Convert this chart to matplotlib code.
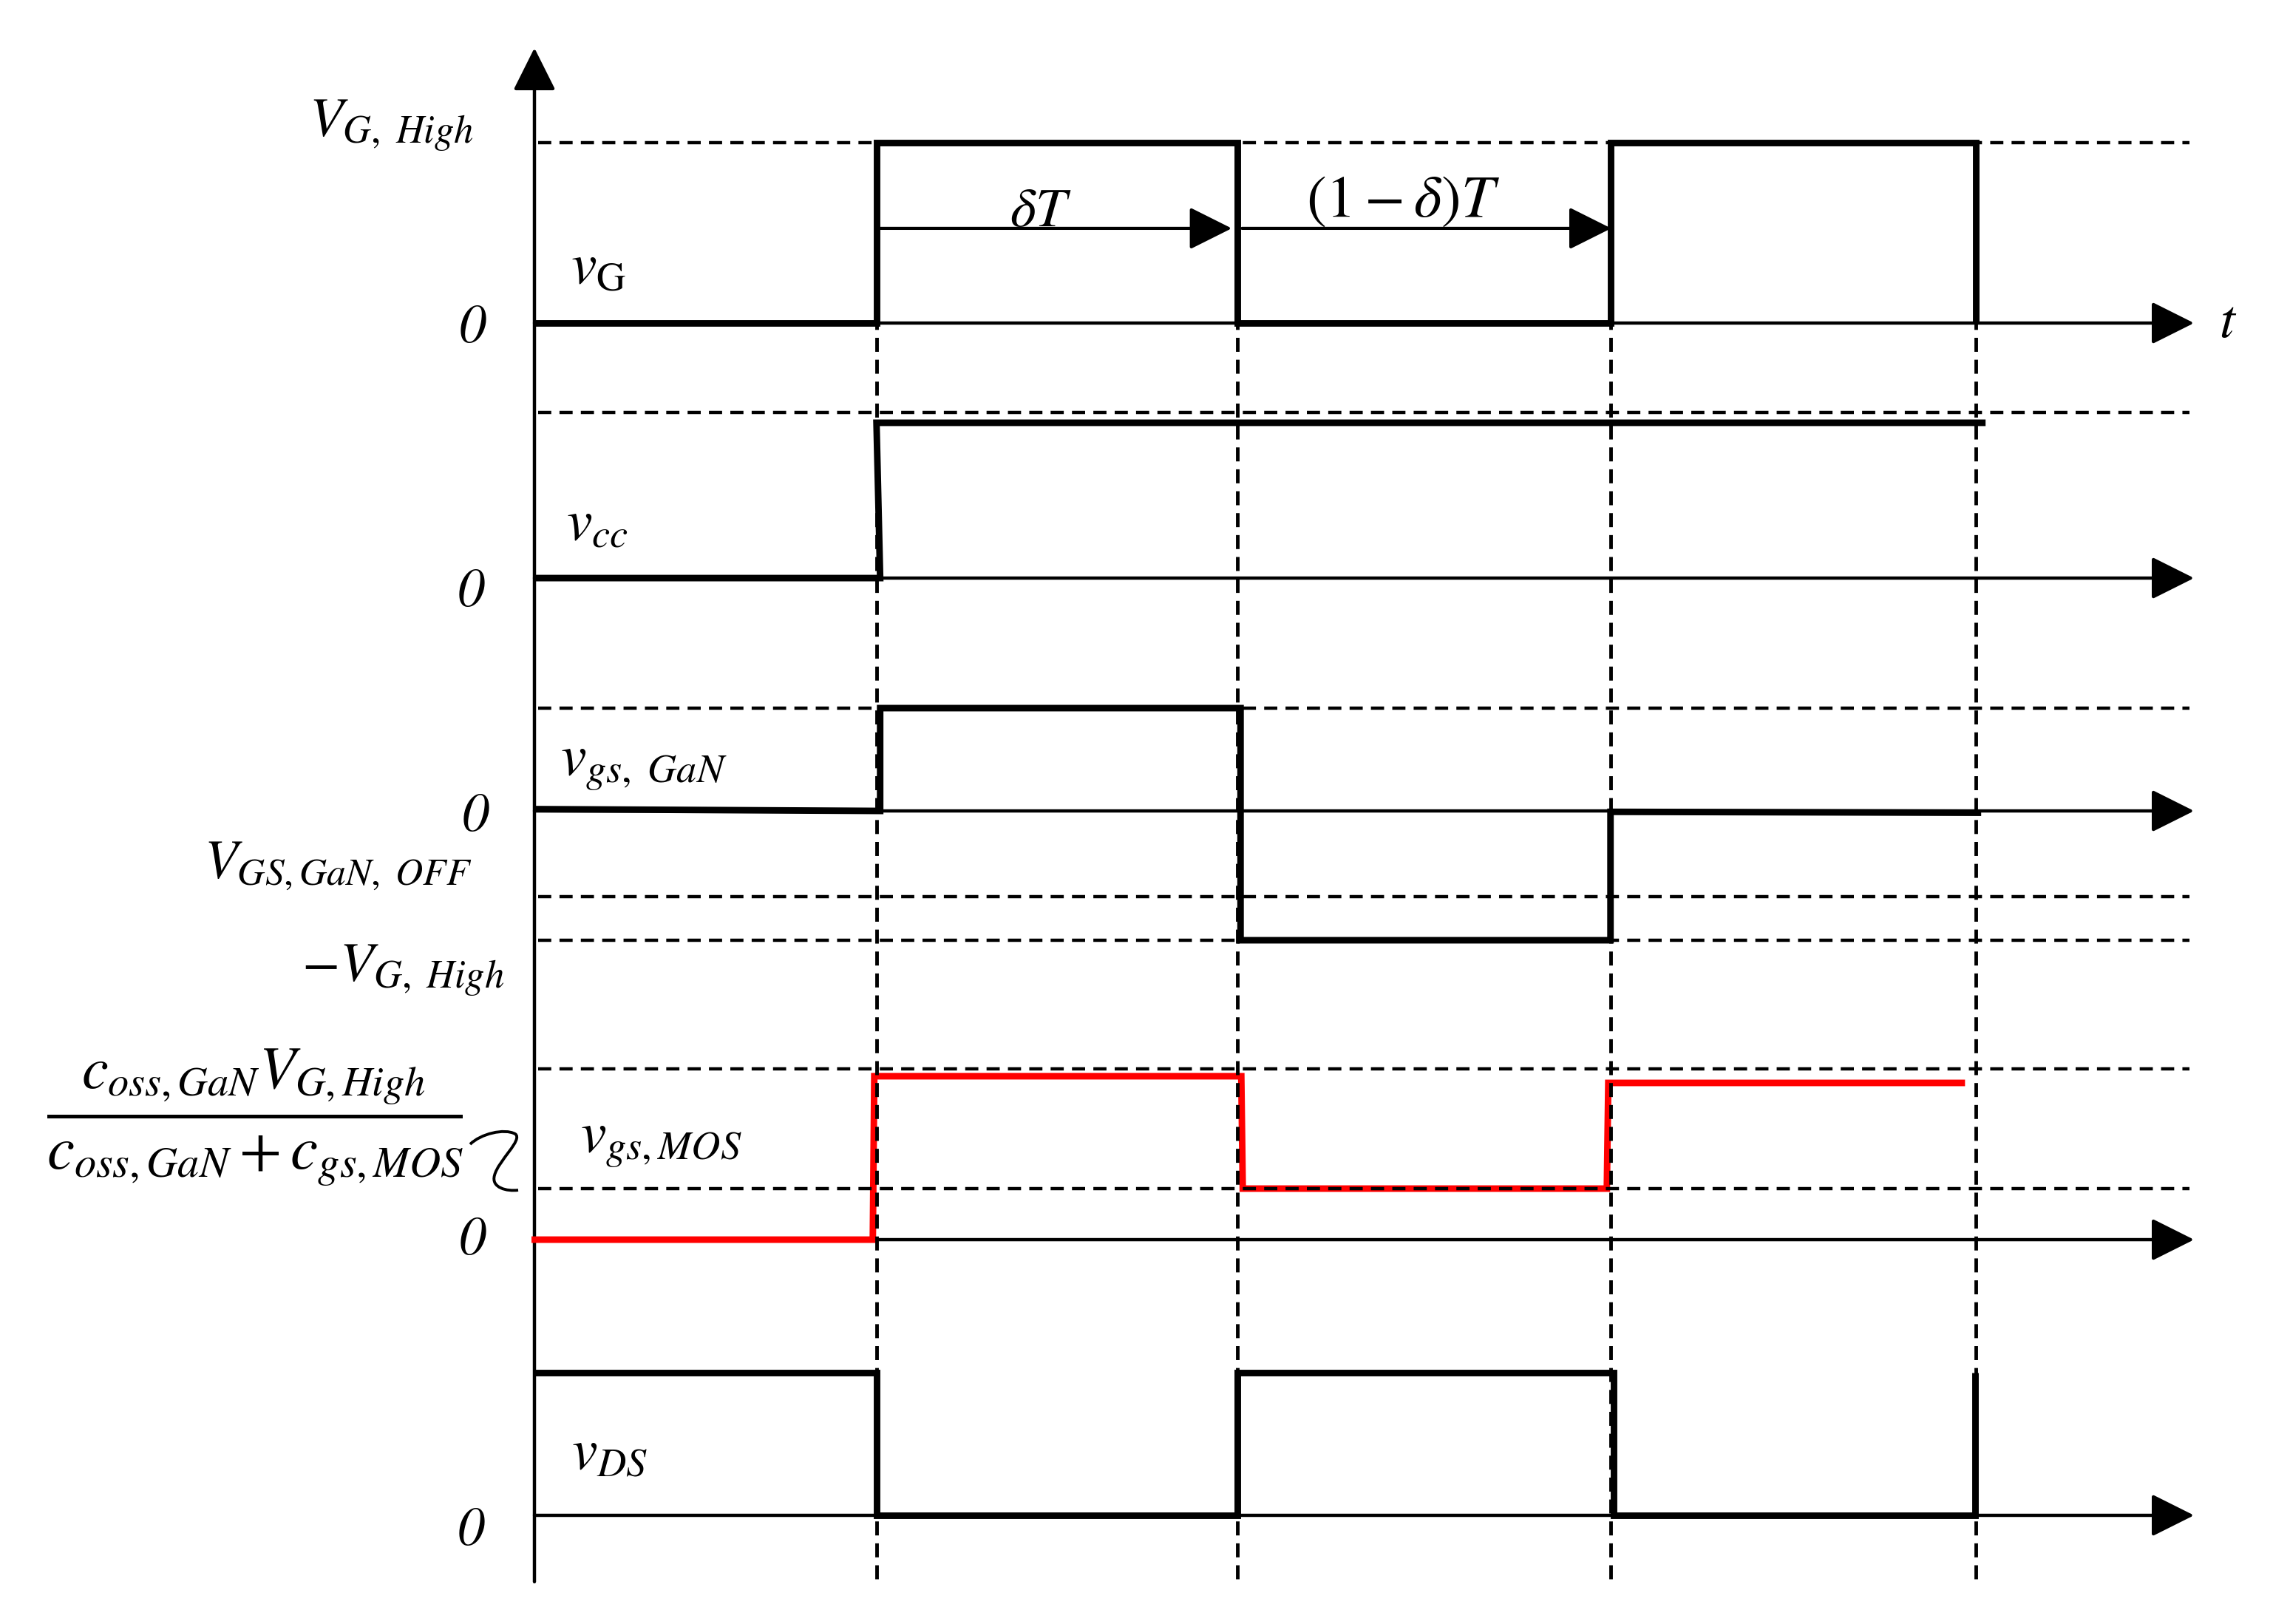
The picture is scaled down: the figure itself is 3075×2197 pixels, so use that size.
import matplotlib
matplotlib.use("Agg")
import matplotlib.pyplot as plt
from matplotlib.path import Path
from matplotlib.patches import PathPatch

plt.rcParams["mathtext.fontset"] = "stix"
plt.rcParams["font.family"] = ["STIXGeneral", "DejaVu Serif"]

# ---- data: time in units of the period T (t = 0 on the vertical axis),
# ---- levels in units of V_G,High relative to each trace's own zero line
t_edges = [0.466, 0.958, 1.466, 1.964]

vg_t = [0.0, 0.466, 0.466, 0.958, 0.958, 1.466, 1.466, 1.964, 1.964]
vg_v = [0, 0, 1.0, 1.0, 0, 0, 1.0, 1.0, 0]

vcc_t = [0.0, 0.471, 0.466, 1.977]
vcc_v = [0, 0, 0.861, 0.861]

gan_t = [0.0, 0.471, 0.471, 0.962, 0.962, 1.466, 1.466, 1.971]
gan_v = [0.01, 0, 0.570, 0.570, -0.717, -0.717, -0.005, -0.01]

mos_t = [-0.004, 0.461, 0.463, 0.963, 0.965, 1.461, 1.463, 1.949]
mos_v = [0, 0, 0.906, 0.906, 0.283, 0.283, 0.869, 0.869]

ds_t = [0.0, 0.466, 0.466, 0.958, 0.958, 1.470, 1.470, 1.963, 1.963]
ds_v = [0.791, 0.791, 0, 0, 0.791, 0.791, 0, 0, 0.791]

# dashed reference levels of each trace
vg_ref = [1.0]
vcc_ref = [0.918]
gan_ref = [0.570, -0.475, -0.717]
mos_ref = [0.947, 0.283]
ds_ref = []

# ---- layout (pixels of the 3075 x 2197 canvas)
W, H = 3075, 2197
AX_PX, T_PX, V_PX = 723, 993, 244
t_axis_end = 2.261
base = {"vg": 7.213, "vcc": 5.799, "gan": 4.508, "mos": 2.131, "ds": 0.6025}

fig = plt.figure(figsize=(W / 100, H / 100), dpi=100)
ax = fig.add_axes([0, 0, 1, 1])
ax.set_xlim(-AX_PX / T_PX, (W - AX_PX) / T_PX)
ax.set_ylim(0, H / V_PX)
ax.axis("off")

LW_WAVE = 6.4
LW_AXIS = 3.2
head = dict(arrowstyle="-|>,head_length=1.0,head_width=0.5",
            mutation_scale=36, lw=LW_AXIS, color="black",
            shrinkA=0, shrinkB=0)

# vertical axis
ax.annotate("", xy=(0, 8.738), xytext=(0, 0.234), arrowprops=head, zorder=3)

traces = [
    ("vg", vg_t, vg_v, vg_ref, "black"),
    ("vcc", vcc_t, vcc_v, vcc_ref, "black"),
    ("gan", gan_t, gan_v, gan_ref, "black"),
    ("mos", mos_t, mos_v, mos_ref, "#ff0000"),
    ("ds", ds_t, ds_v, ds_ref, "black"),
]
for key, tt, vv, refs, col in traces:
    b = base[key]
    # time axis
    ax.annotate("", xy=(t_axis_end, b), xytext=(0, b), arrowprops=head, zorder=3)
    # reference levels
    for r in refs:
        ax.plot([0.005, 2.255], [b + r, b + r], color="black", lw=3.2,
                linestyle=(0, (4.0, 2.5)), zorder=5)
    # waveform
    ax.plot(tt, [b + v for v in vv], color=col, lw=LW_WAVE,
            solid_joinstyle="miter", solid_capstyle="butt", zorder=4)

# vertical dashed guides at the switching instants
for te in t_edges:
    ax.plot([te, te], [0.25, base["vg"]], color="black", lw=3.5,
            linestyle=(0, (3.9, 2.2)), zorder=5)

# duty-cycle arrows
yarr = base["vg"] + 0.525
small = dict(arrowstyle="-|>,head_length=1.0,head_width=0.5",
             mutation_scale=36, lw=3.0, color="black", shrinkA=0, shrinkB=0)
ax.annotate("", xy=(0.950, yarr), xytext=(0.466, yarr), arrowprops=small, zorder=6)
ax.annotate("", xy=(1.467, yarr), xytext=(0.964, yarr), arrowprops=small, zorder=6)


def label(px, py, s, size=50, ha="left", **kw):
    fig.text(px / W, 1 - py / H, s, fontsize=size, ha=ha, va="baseline", **kw)


def zero(px, py):
    label(px, py, "0", size=53, ha="center", style="italic")


label(418, 185, r"$V_{G,\ High}$", size=54)
label(772, 383, r"$v_{\mathrm{G}}$", size=56)
label(3002, 456, r"$t$", size=54)
label(766, 730, r"$v_{cc}$", size=56)
label(758, 1049, r"$v_{gs,\ GaN}$", size=56)
label(276, 1188, r"$V_{GS,GaN,\ OFF}$", size=53)
label(408, 1328, r"$-V_{G,\ High}$", size=54)
label(785, 1558, r"$v_{gs,MOS}$", size=56)
label(773, 1987, r"$v_{DS}$", size=56)
label(1408, 306, r"$\delta T$", size=54, ha="center")
label(1898, 293, r"$(1-\delta)T$", size=58, ha="center")

zero(639, 463)
zero(637, 820)
zero(643, 1124)
zero(639, 1697)
zero(637, 2090)

# fraction label
label(343, 1472, r"$c_{oss,GaN}V_{G,High}$", size=58, ha="center")
label(345, 1582, r"$c_{oss,GaN}+c_{gs,MOS}$", size=60, ha="center")
fig.add_artist(plt.Line2D([66 / W, 623 / W], [1 - 1510 / H, 1 - 1510 / H],
                          color="black", lw=3.6, transform=fig.transFigure))

# squiggle linking the fraction to its two dashed levels
pts = [(636, 1548), (650, 1534), (682, 1526), (697, 1534),
       (708, 1542), (674, 1570), (669, 1590),
       (664, 1607), (686, 1612), (701, 1610)]
codes = [Path.MOVETO] + [Path.CURVE4] * 9
verts = [(x / W, 1 - y / H) for x, y in pts]
fig.add_artist(PathPatch(Path(verts, codes), fill=False, lw=2.8,
                         edgecolor="black", transform=fig.transFigure))

fig.savefig("out.png", dpi=100)
